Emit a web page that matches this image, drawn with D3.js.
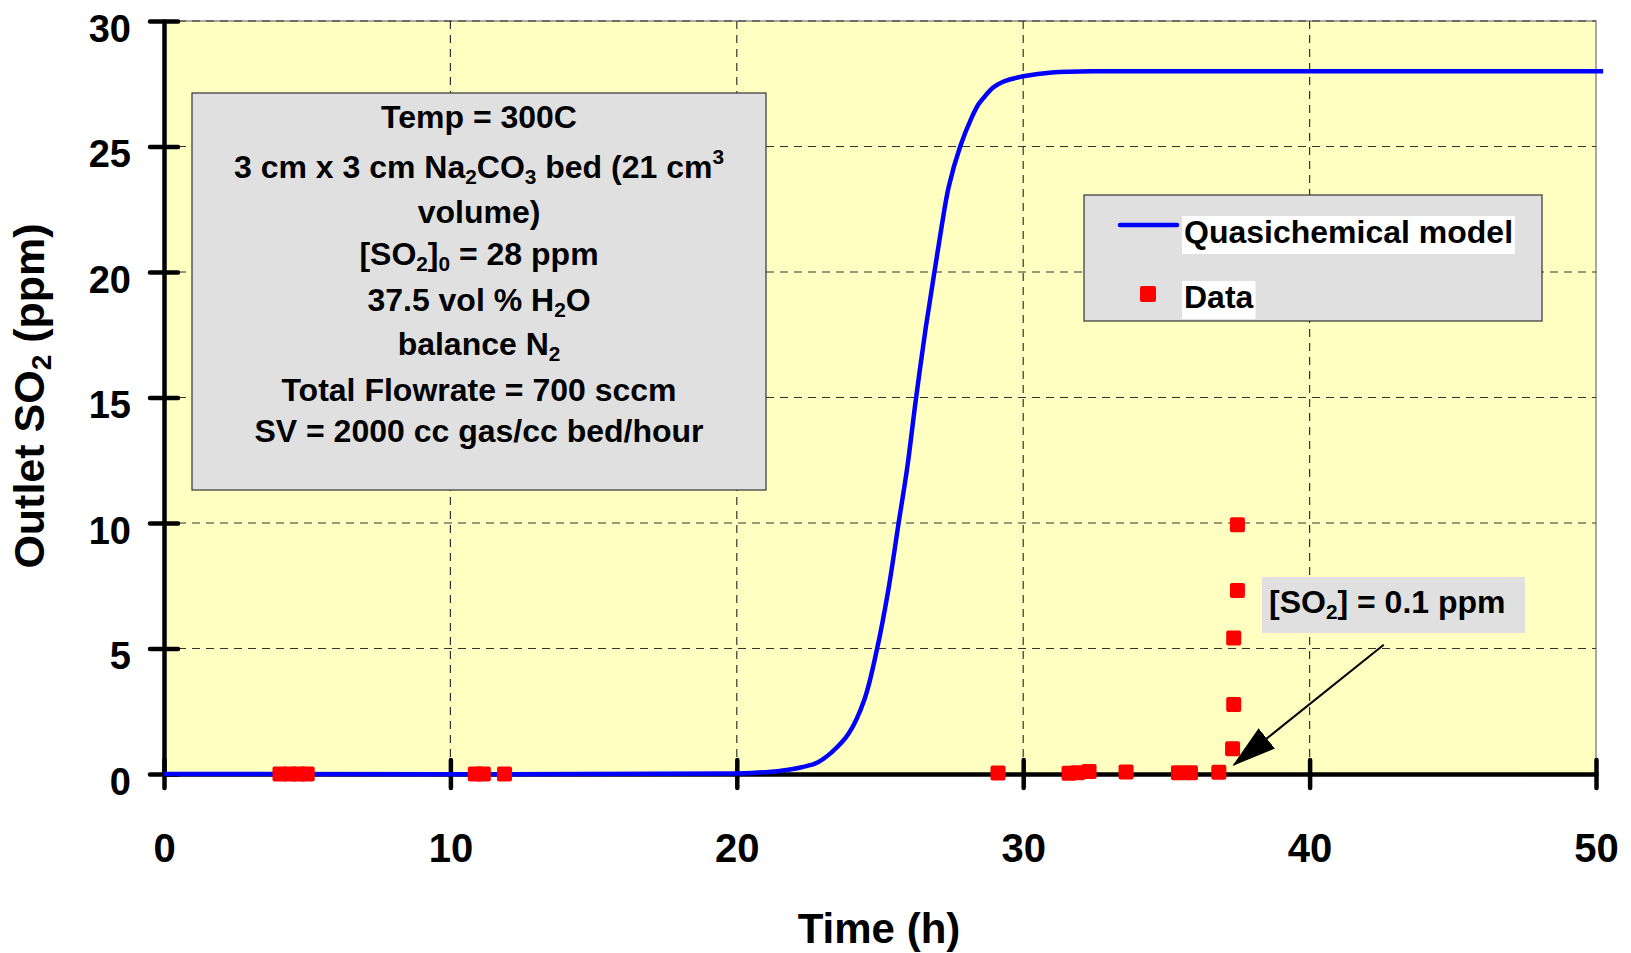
<!DOCTYPE html>
<html>
<head>
<meta charset="utf-8">
<script src="https://d3js.org/d3.v7.min.js"></script>
<style>
  body { margin: 0; background: #fff; }
  svg text { font-family: "Liberation Sans", Arial, sans-serif; font-weight: bold; fill: #000; }
</style>
</head>
<body>
<script>
// model curve
var modelTime = [0, 20, 21, 21.8, 22.3, 22.8, 23.3, 23.9, 24.45, 24.9, 25.3, 25.65, 25.95, 26.25, 26.6, 26.9, 27.15, 27.4, 27.8, 28.2, 28.45, 28.7, 28.95, 29.3, 29.7, 30, 31, 33, 40, 50.25];
var modelSO2  = [0, 0.02, 0.07, 0.17, 0.28, 0.45, 0.85, 1.6, 2.95, 5.0, 7.4, 10.0, 12.2, 14.9, 17.8, 20.0, 21.8, 23.4, 25.0, 26.15, 26.7, 27.05, 27.35, 27.58, 27.72, 27.8, 27.95, 28, 28, 28];

// measured points
var dataTime = [4.05, 4.4, 4.7, 5.0, 10.87, 11.15, 11.89, 29.12, 31.6, 31.9, 32.3, 33.59, 35.42, 35.84, 36.83, 37.31, 37.35, 37.35, 37.48, 37.48];
var dataSO2  = [0, 0, 0, 0, 0, 0, 0, 0.04, 0.03, 0.05, 0.1, 0.08, 0.05, 0.05, 0.07, 1.01, 2.77, 5.42, 7.31, 9.93];

var xTicks = [0, 10, 20, 30, 40, 50];
var yTicks = [0, 5, 10, 15, 20, 25, 30];

// conditions box, one entry per line; sub / sup parts marked
var boxLines = [
    [["Temp = 300C"]],
    [["3 cm x 3 cm Na"], ["2", "sub"], ["CO"], ["3", "sub"], [" bed (21 cm"], ["3", "sup"]],
    [["volume)"]],
    [["[SO"], ["2", "sub"], ["]"], ["0", "sub"], [" = 28 ppm"]],
    [["37.5 vol % H"], ["2", "sub"], ["O"]],
    [["balance N"], ["2", "sub"]],
    [["Total Flowrate = 700 sccm"]],
    [["SV = 2000 cc gas/cc bed/hour"]]
];
var noteText = [["[SO"], ["2", "sub"], ["] = 0.1 ppm"]];
var notePoint = [37.36, 0.37], noteStart = [42.59, 5.15];

var margin = {top: 21, right: 35, bottom: 179, left: 164},
    width = 1631 - margin.left - margin.right,
    height = 953 - margin.top - margin.bottom;

var x = d3.scaleLinear().domain([0, 50]).range([0, width]);
var y = d3.scaleLinear().domain([0, 30]).range([height, 0]);

var svg = d3.select('body').append('svg')
    .attr('width', 1631)
    .attr('height', 953);

var defs = svg.append('defs');
defs.append('marker')
    .attr('id', 'arrow')
    .attr('markerUnits', 'userSpaceOnUse')
    .attr('viewBox', '0 0 44 26')
    .attr('refX', 42).attr('refY', 13)
    .attr('markerWidth', 44).attr('markerHeight', 26)
    .attr('orient', 'auto')
    .append('path')
    .attr('d', 'M0,0 L44,13 L0,26 Z')
    .attr('fill', '#000');

var g = svg.append('g')
    .attr('transform', 'translate(' + margin.left + ',' + margin.top + ')');

// plot area
g.append('rect')
    .attr('width', width).attr('height', height)
    .attr('fill', '#ffffc2')
    .attr('stroke', '#555').attr('stroke-width', 1);

// gridlines
g.append('g').selectAll('line')
    .data(yTicks.filter(function(d) { return d > 0; }))
    .enter().append('line')
    .attr('x1', 0).attr('x2', width)
    .attr('y1', function(d) { return y(d); })
    .attr('y2', function(d) { return y(d); })
    .attr('stroke', '#333').attr('stroke-width', 1.2)
    .attr('stroke-dasharray', '8,6');
g.append('g').selectAll('line')
    .data(xTicks.filter(function(d) { return d > 0 && d < 50; }))
    .enter().append('line')
    .attr('y1', 0).attr('y2', height)
    .attr('x1', function(d) { return x(d); })
    .attr('x2', function(d) { return x(d); })
    .attr('stroke', '#333').attr('stroke-width', 1.2)
    .attr('stroke-dasharray', '8,6');

// axes
var xAxis = g.append('g')
    .attr('transform', 'translate(0,' + height + ')')
    .call(d3.axisBottom(x).tickValues(xTicks).tickSize(14).tickSizeOuter(0));
xAxis.select('.domain').attr('stroke', '#000').attr('stroke-width', 4.5);
xAxis.selectAll('.tick line')
    .attr('y1', -14).attr('y2', 14)
    .attr('stroke', '#000').attr('stroke-width', 4.5);
xAxis.selectAll('.tick text')
    .attr('y', 88).attr('dy', 0)
    .style('font-size', '40px');

var yAxis = g.append('g')
    .call(d3.axisLeft(y).tickValues(yTicks).tickSize(14).tickPadding(19).tickSizeOuter(0));
yAxis.select('.domain').attr('stroke', '#000').attr('stroke-width', 4.5);
yAxis.selectAll('.tick line')
    .attr('x1', -14).attr('x2', 14)
    .attr('stroke', '#000').attr('stroke-width', 4.5);
yAxis.selectAll('.tick text')
    .attr('dy', 20)
    .style('font-size', '38px');
svg.selectAll('.domain, .tick line').attr('stroke-linecap', 'round');

// axis titles
svg.append('text')
    .attr('x', 879).attr('y', 943)
    .attr('text-anchor', 'middle')
    .style('font-size', '42px')
    .text('Time (h)');

var yTitle = svg.append('text')
    .attr('transform', 'translate(44,396) rotate(-90)')
    .attr('text-anchor', 'middle')
    .style('font-size', '43px');
yTitle.append('tspan').text('Outlet SO');
yTitle.append('tspan').attr('dy', 7).style('font-size', '28px').text('2');
yTitle.append('tspan').attr('dy', -7).text(' (ppm)');

// write mixed text with sub/superscripts
function richText(sel, parts, size) {
    var shift = 0;
    parts.forEach(function(p) {
        var want = p[1] === 'sub' ? size * 0.2 : (p[1] === 'sup' ? -size * 0.45 : 0);
        sel.append('tspan')
            .attr('dy', want - shift)
            .style('font-size', (p[1] ? size * 0.65 : size) + 'px')
            .text(p[0]);
        shift = want;
    });
}

// conditions box
var boxG = svg.append('g');
boxG.append('rect')
    .attr('x', 192).attr('y', 93)
    .attr('width', 574).attr('height', 397)
    .attr('fill', '#e0e0e0')
    .attr('stroke', '#333').attr('stroke-width', 1.2);
var baselines = [128, 178, 223, 265, 311, 355, 401, 442];
boxLines.forEach(function(line, i) {
    var t = boxG.append('text')
        .attr('x', 479).attr('y', baselines[i])
        .attr('text-anchor', 'middle')
        .style('font-size', '32px');
    richText(t, line, 32);
});

// the curve
var line = d3.line()
    .x(function(d) { return x(d[0]); })
    .y(function(d) { return y(d[1]); })
    .curve(d3.curveCatmullRom.alpha(0.5));
g.append('path')
    .datum(d3.zip(modelTime, modelSO2))
    .attr('d', line)
    .attr('fill', 'none')
    .attr('stroke', '#0000ff')
    .attr('stroke-width', 4.5);

// legend
var leg = svg.append('g');
leg.append('rect')
    .attr('x', 1084).attr('y', 195)
    .attr('width', 458).attr('height', 126)
    .attr('fill', '#e0e0e0')
    .attr('stroke', '#333').attr('stroke-width', 1.2);
leg.append('line')
    .attr('x1', 1120).attr('x2', 1177)
    .attr('y1', 225).attr('y2', 225)
    .attr('stroke', '#0000ff').attr('stroke-width', 4.5)
    .attr('stroke-linecap', 'round');
leg.append('rect')
    .attr('x', 1140).attr('y', 286)
    .attr('width', 16).attr('height', 16).attr('rx', 2)
    .attr('fill', '#ff0000');
[['Quasichemical model', 243], ['Data', 308]].forEach(function(d) {
    var bg = leg.append('rect').attr('fill', '#fff');
    var t = leg.append('text')
        .attr('x', 1184).attr('y', d[1])
        .style('font-size', '32px')
        .text(d[0]);
    var b = t.node().getBBox();
    bg.attr('x', b.x - 2).attr('y', b.y + 2)
        .attr('width', b.width + 4).attr('height', b.height + 2);
});

// annotation
var note = svg.append('g');
note.append('rect')
    .attr('x', 1262).attr('y', 577)
    .attr('width', 263).attr('height', 56)
    .attr('fill', '#e0e0e0');
richText(note.append('text')
    .attr('x', 1269).attr('y', 613)
    .style('font-size', '32px'), noteText, 32);

// data markers
g.selectAll('.pt')
    .data(d3.zip(dataTime, dataSO2))
    .enter().append('rect')
    .attr('class', 'pt')
    .attr('x', function(d) { return x(d[0]) - 7.5; })
    .attr('y', function(d) { return y(d[1]) - 7.5; })
    .attr('width', 15).attr('height', 15).attr('rx', 2)
    .attr('fill', '#ff0000');

// arrow
g.append('line')
    .attr('x1', x(noteStart[0])).attr('y1', y(noteStart[1]))
    .attr('x2', x(notePoint[0])).attr('y2', y(notePoint[1]))
    .attr('stroke', '#000').attr('stroke-width', 2)
    .attr('marker-end', 'url(#arrow)');
</script>
</body>
</html>
